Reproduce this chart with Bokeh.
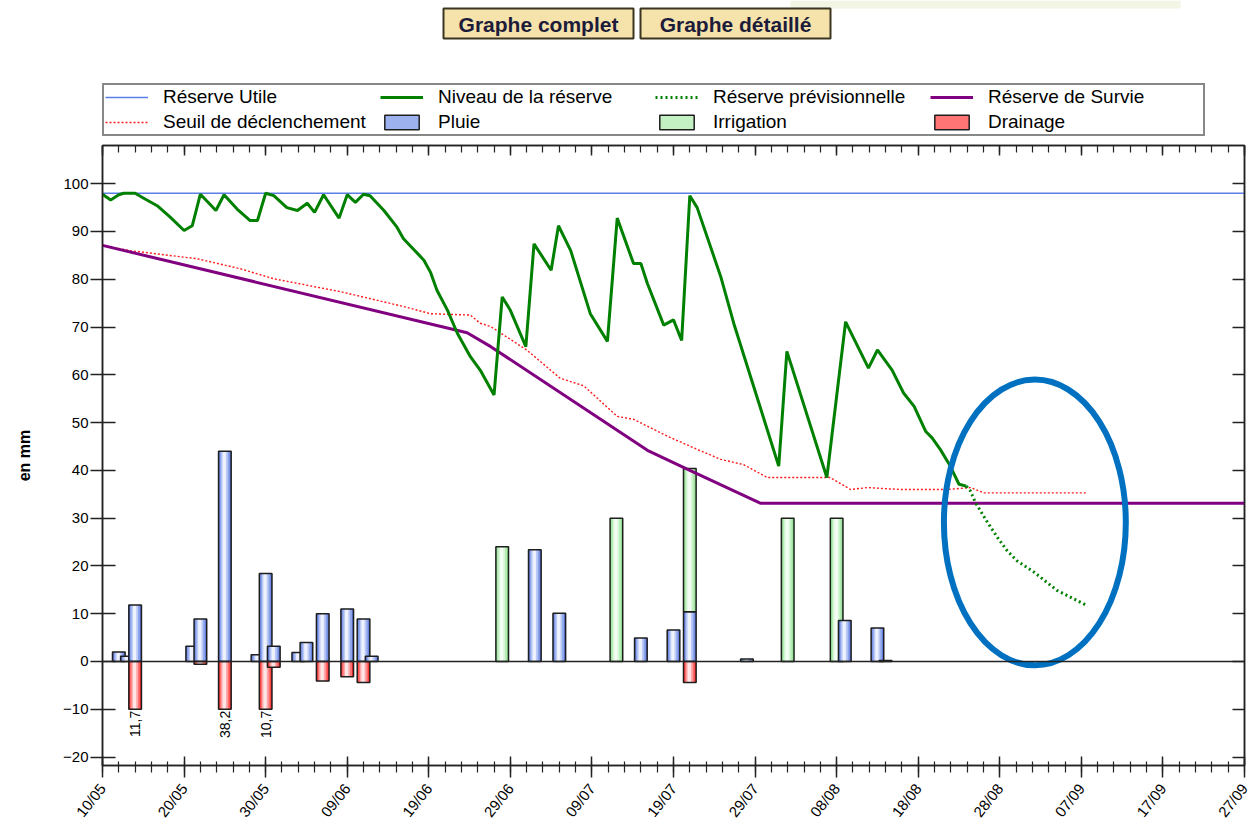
import math
from bokeh.plotting import figure
from bokeh.layouts import column
from bokeh.models import (FixedTicker, LinearAxis, Legend, LegendItem, Range1d, Span)
from bokeh.core.properties import value
from bokeh.embed import file_html
from bokeh.resources import INLINE

FONT = "Liberation Sans"
NAN = float("nan")

# ---------------- data ----------------
tick_days = [0, 10, 20, 30, 40, 50, 60, 70, 80, 90, 100, 110, 120, 130, 140]
tick_labels = ["10/05", "20/05", "30/05", "09/06", "19/06", "29/06", "09/07", "19/07",
               "29/07", "08/08", "18/08", "28/08", "07/09", "17/09", "27/09"]
minor_days = list(range(0, 141, 2))
y_ticks = list(range(-20, 101, 10))

reserve_utile = 98.0

niveau_day = [0, 1, 2, 2.6, 4, 5, 6.7, 8.3, 10, 11, 12, 13.9, 14.9, 16.5, 18.1, 19, 20, 21,
              22.6, 23.9, 25.1, 26, 27.1, 29, 30, 31, 32, 32.8, 34.5, 36.1, 36.9, 39.4, 40.2,
              41, 42.3, 43.5, 45.1, 46.3, 48, 49, 50, 51.9, 52.9, 55, 55.9, 57.4, 59.8, 61.9,
              63.1, 65.1, 66, 66.8, 68.8, 70, 71, 72, 72.9, 75.8, 77.4, 82.9, 83.9, 88.8, 91.1,
              93.9, 95, 96.8, 98.2, 99.5, 100.9, 101.7, 102.7, 103.8, 105, 105.9]
niveau_mm = [97.8, 96.6, 97.7, 98, 98, 97, 95.4, 93, 90.2, 91.2, 97.8, 94.4, 97.7, 94.7, 92.3,
             92.3, 98, 97.5, 95, 94.4, 95.9, 94, 97.7, 92.8, 97.7, 96.1, 97.8, 97.5, 94.4, 90.9,
             88.5, 84, 81.5, 77.7, 73.5, 68.7, 63.8, 61, 55.8, 76.3, 73.5, 65.9, 87.4, 81.9,
             91.2, 86, 72.8, 67, 92.8, 83.3, 83.3, 79.1, 70.4, 71.5, 67.2, 97.5, 95, 80.5,
             70.7, 40.9, 64.9, 38.5, 71.1, 61.4, 65.2, 61, 56.2, 53.4, 48.2, 46.8, 44.4, 41.3,
             37.1, 36.7]

prev_day = [105.9, 106.4, 107, 108.5, 109.7, 110.9, 112.1, 114.2, 117, 120.7]
prev_mm = [36.7, 35.7, 33.3, 29.1, 26, 23.2, 21.1, 18.7, 14.9, 11.7]

seuil_day = [0, 3.4, 6.7, 11.6, 16.9, 21, 29.2, 36.9, 40.2, 45.1, 46.3, 47.6, 52, 56.1, 59,
             63.1, 65.1, 69.2, 72.9, 75.8, 78.6, 81.5, 87.2, 89.2, 91.7, 93.8, 97.8, 103.5,
             106.4, 108, 120.7]
seuil_mm = [87.1, 86, 85.3, 84.3, 82.2, 80.1, 77.4, 74.3, 72.8, 72.5, 70.8, 70.1, 65.2, 59.3,
            57.7, 51.3, 50.7, 47.2, 44.4, 42.3, 41.2, 38.5, 38.5, 38.5, 36, 36.4, 36, 36,
            36.4, 35.3, 35.3]

survie_day = [0, 44.7, 47.6, 66.8, 72.0, 80.7, 140]
survie_mm = [87.1, 68.8, 65.9, 44.2, 40.0, 33.1, 33.1]

pluie_day = [2, 3, 4, 11, 12, 15, 19, 20, 21, 24, 25, 27, 30, 32, 33, 53, 56, 66, 70, 72, 79, 91, 95, 96]
pluie_mm = [2.0, 1.1, 11.8, 3.2, 8.9, 44.0, 1.4, 18.4, 3.2, 1.9, 4.0, 10.0, 11.0, 8.9, 1.1,
            23.4, 10.1, 4.9, 6.6, 10.4, 0.5, 8.6, 7.0, 0.2]
irrig_day = [49, 63, 72, 84, 90]
irrig_mm = [24.0, 30.0, 30.0, 30.0, 30.0]
drain_day = [4, 12, 15, 20, 21, 27, 30, 32, 72]
drain_mm = [11.7, 0.6, 38.2, 10.7, 1.2, 4.1, 3.2, 4.4, 4.4]
drain_cap = 10.0

# highlight ellipse (centre day, centre mm, width days, height mm)
circle_day, circle_mm, circle_w, circle_h = 114.3, 29.1, 22.3, 59.8

button_labels = ["Graphe complet", "Graphe détaillé"]

# ---------------- styles ----------------
AX = "#222222"
ST = {
    "ru": dict(line_color="#5b7fe6", line_width=1.5),
    "seuil": dict(line_color="#ff1a1a", line_width=1.4, line_dash="2 2"),
    "surv": dict(line_color="#800080", line_width=3),
    "niv": dict(line_color="#008000", line_width=3),
    "prev": dict(line_color="#008000", line_width=3, line_dash="2 3"),
}
shades = {
    "pluie": ["#5a78dc", "#8ca3ec", "#bccbf6", "#eef2fd"],
    "irrig": ["#8cdf8c", "#b3ecb3", "#d6f6d6", "#f4fdf4"],
    "drain": ["#ff2a2a", "#ff6c6c", "#ffaaaa", "#ffe6e6"],
}
legend_fill = {"pluie": "#9db1ef", "irrig": "#c4f1c4", "drain": "#ff7474"}
OUTLINE = dict(line_color="#1e1e1e", line_width=1.5)

# ---------------- header: page buttons + legend ----------------
HEAD_H = 140
FRAME_L, FRAME_R = 102, 1244   # the header frame is aligned with the chart frame
head = figure(width=1253, height=HEAD_H, x_range=Range1d(FRAME_L, FRAME_R),
              y_range=Range1d(HEAD_H, 0),
              output_backend="svg", toolbar_location=None, x_axis_type=None, y_axis_type=None,
              min_border=0, min_border_left=0, min_border_right=0, min_border_top=0,
              min_border_bottom=0)
head.outline_line_color = None
head.background_fill_color = "white"
head.border_fill_color = "white"
head.grid.visible = False
head.quad(left=[790], right=[1180], top=[0], bottom=[8], fill_color="#f2f5e4", line_color=None)
btn_left = [443, 640]
btn_right = [633, 830]
head.quad(left=btn_left, right=btn_right, top=[8, 8], bottom=[38, 38],
          fill_color="#f6e2ab", line_color="#3a3520", line_width=2)
head.text(x=[(a + b) / 2 for a, b in zip(btn_left, btn_right)], y=[24, 24], text=button_labels,
          text_align="center", text_baseline="middle", text_font=value(FONT),
          text_font_size="21px", text_font_style="bold", text_color="#1c1c3a")

# legend proxies (styles only, nothing drawn)
h_ru = head.line([NAN], [NAN], **ST["ru"])
h_niv = head.line([NAN], [NAN], **ST["niv"])
h_prev = head.line([NAN], [NAN], **ST["prev"])
h_surv = head.line([NAN], [NAN], **ST["surv"])
h_seuil = head.line([NAN], [NAN], **ST["seuil"])
h_bars = {k: head.vbar(x=[NAN], top=[NAN], width=1, fill_color=c, **OUTLINE)
          for k, c in legend_fill.items()}

items = [
    LegendItem(label="Réserve Utile", renderers=[h_ru]),
    LegendItem(label="Niveau de la réserve", renderers=[h_niv]),
    LegendItem(label="Réserve prévisionnelle", renderers=[h_prev]),
    LegendItem(label="Réserve de Survie", renderers=[h_surv]),
    LegendItem(label="Seuil de déclenchement", renderers=[h_seuil]),
    LegendItem(label="Pluie", renderers=[h_bars["pluie"]]),
    LegendItem(label="Irrigation", renderers=[h_bars["irrig"]]),
    LegendItem(label="Drainage", renderers=[h_bars["drain"]]),
]
legend = Legend(items=items, location=(0, 4), orientation="horizontal", ncols=4,
                glyph_width=43, glyph_height=18, label_width=214, label_height=18,
                label_standoff=15, spacing=3, padding=1, margin=0,
                label_text_font=FONT, label_text_font_size="19px", label_text_color="black",
                border_line_color="#111111", border_line_width=2,
                background_fill_color="white", background_fill_alpha=1.0)
head.add_layout(legend)

# ---------------- main chart ----------------
p = figure(width=1253, height=828 - HEAD_H, x_range=Range1d(0, 140), y_range=Range1d(-21.77, 108.0),
           output_backend="svg", toolbar_location=None,
           x_axis_type=None, y_axis_type=None,
           min_border_left=FRAME_L, min_border_right=1253 - FRAME_R, min_border_top=145 - HEAD_H,
           min_border_bottom=60)
p.background_fill_color = "white"
p.border_fill_color = "white"
p.outline_line_color = AX
p.outline_line_width = 1.5

xt = FixedTicker(ticks=tick_days, minor_ticks=minor_days)
xb = LinearAxis(ticker=xt,
                major_label_overrides={d: l for d, l in zip(tick_days, tick_labels)},
                major_label_orientation=0.9, major_label_text_font=FONT,
                major_label_text_font_size="15px", major_label_text_color="black",
                major_tick_in=9, major_tick_out=12, minor_tick_in=4, minor_tick_out=7,
                major_label_standoff=8, axis_line_color=AX, axis_line_width=1.5,
                major_tick_line_color=AX, major_tick_line_width=1.5,
                minor_tick_line_color=AX, minor_tick_line_width=1.2)
p.add_layout(xb, "below")

xa = LinearAxis(ticker=FixedTicker(ticks=tick_days, minor_ticks=minor_days),
                major_label_overrides={d: "" for d in tick_days},
                major_label_text_font_size="1px", major_label_standoff=0,
                major_tick_in=10, major_tick_out=0, minor_tick_in=7, minor_tick_out=0,
                axis_line_color=AX, axis_line_width=1.5,
                major_tick_line_color=AX, major_tick_line_width=1.5,
                minor_tick_line_color=AX, minor_tick_line_width=1.2)
p.add_layout(xa, "above")

yl = LinearAxis(ticker=FixedTicker(ticks=y_ticks, minor_ticks=[]),
                axis_label="en mm", axis_label_text_font=FONT, axis_label_text_font_size="16px",
                axis_label_text_font_style="bold", axis_label_text_color="black",
                axis_label_standoff=27,
                major_label_text_font=FONT, major_label_text_font_size="15px",
                major_label_text_color="black", major_label_standoff=2,
                major_tick_in=13, major_tick_out=12, minor_tick_line_color=None,
                axis_line_color=AX, axis_line_width=1.5,
                major_tick_line_color=AX, major_tick_line_width=1.5)
p.add_layout(yl, "left")

yr = LinearAxis(ticker=FixedTicker(ticks=y_ticks, minor_ticks=[]),
                major_label_overrides={t: "" for t in y_ticks},
                major_label_text_font_size="1px", major_label_standoff=0,
                major_tick_in=12, major_tick_out=0, minor_tick_line_color=None,
                axis_line_color=AX, axis_line_width=1.5,
                major_tick_line_color=AX, major_tick_line_width=1.5)
p.add_layout(yr, "right")

# bars (gradient imitated with nested strips), drawn day by day
BAR_W = 1.55
fracs = [1.0, 0.78, 0.52, 0.26]
pluie_lookup = dict(zip(pluie_day, pluie_mm))
segments = []
for d, v in zip(pluie_day, pluie_mm):
    segments.append((d, 0.0, v, "pluie"))
for d, v in zip(irrig_day, irrig_mm):
    b = pluie_lookup.get(d, 0.0)
    segments.append((d, b, b + v, "irrig"))
for d, v in zip(drain_day, drain_mm):
    segments.append((d, -min(v, drain_cap), 0.0, "drain"))
order = {"pluie": 0, "irrig": 1, "drain": 2}
segments.sort(key=lambda s: (s[0], order[s[3]]))

for d, b, t, kind in segments:
    for f, c in zip(fracs, shades[kind]):
        xc = d - 0.06 * BAR_W * (1 - f)
        p.vbar(x=[xc], bottom=[b], top=[t], width=BAR_W * f, fill_color=c, line_color=None)
    p.vbar(x=[d], bottom=[b], top=[t], width=BAR_W, fill_color=None, **OUTLINE)

# drainage values above the cap
for d, v in zip(drain_day, drain_mm):
    if v > drain_cap:
        p.text(x=[d], y=[-drain_cap - 0.3], text=[f"{v:.1f}".replace(".", ",")],
               angle=math.pi / 2, text_align="right", text_baseline="middle",
               text_font=value(FONT), text_font_size="14px", text_color="black")

p.add_layout(Span(location=0, dimension="width", line_color=AX, line_width=1.3))

p.line([tick_days[0], tick_days[-1]], [reserve_utile, reserve_utile], **ST["ru"])
p.line(seuil_day, seuil_mm, **ST["seuil"])
p.line(survie_day, survie_mm, **ST["surv"])
p.line(niveau_day, niveau_mm, **ST["niv"])
p.line(prev_day, prev_mm, **ST["prev"])

p.ellipse(x=[circle_day], y=[circle_mm], width=circle_w, height=circle_h,
          fill_color=None, line_color="#0070c0", line_width=6)

layout = column(head, p, spacing=0)
open("out.html", "w").write(file_html(layout, INLINE))
